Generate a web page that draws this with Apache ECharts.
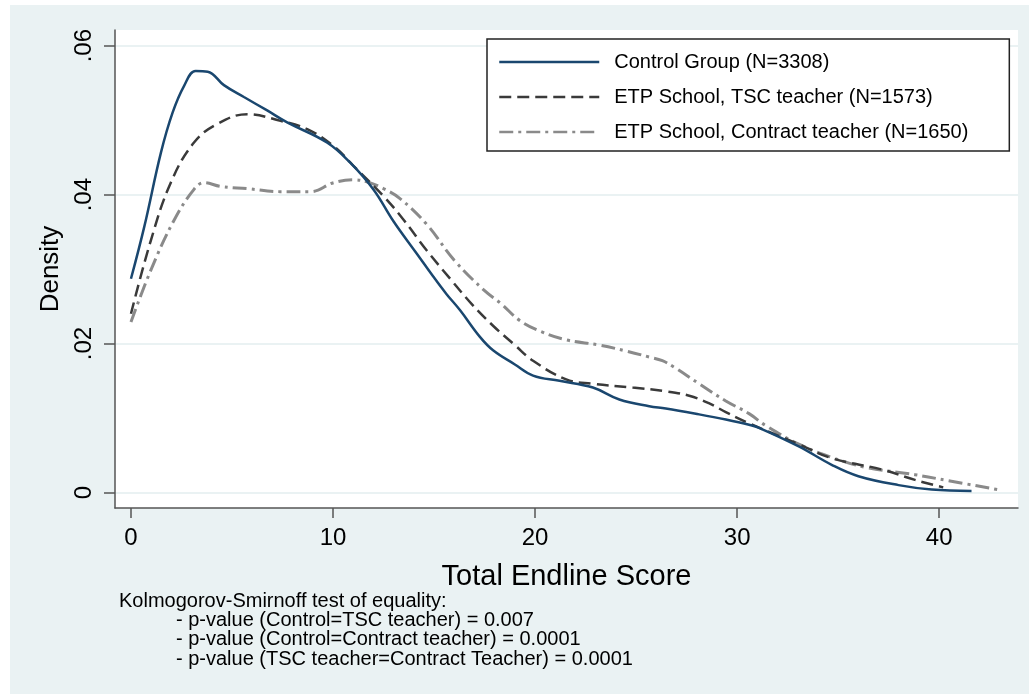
<!DOCTYPE html>
<html>
<head>
<meta charset="utf-8">
<script src="https://cdn.jsdelivr.net/npm/echarts@6/dist/echarts.min.js"></script>
<style>
  html, body { margin: 0; padding: 0; background: #fff; }
  #bg { position: absolute; left: 10px; top: 5px; width: 1019px; height: 689px; background: #eaf2f3; }
  #chart { position: absolute; left: 0; top: 0; width: 1029px; height: 694px; }
</style>
</head>
<body>
<div id="bg"></div>
<div id="chart"></div>
<script>
// kernel density estimates: [score, density]
const controlData = [
  [0, 0.0287], [0.66, 0.0357], [1.48, 0.0456], [2.06, 0.0510], [2.63, 0.0546],
  [3.2, 0.0566], [3.8, 0.0565], [4.6, 0.0547], [5.59, 0.0531], [6.74, 0.0513],
  [7.73, 0.0497], [9.7, 0.0470], [10.85, 0.0443], [12.0, 0.0407], [13.0, 0.0364],
  [14.14, 0.0321], [14.96, 0.0290], [15.6, 0.0267], [16.28, 0.0245], [17.27, 0.0209],
  [17.92, 0.0191], [19.0, 0.0172], [19.9, 0.0157], [21.21, 0.0150], [22.86, 0.0141],
  [24.17, 0.0125], [25.65, 0.0116], [26.47, 0.0113], [28.12, 0.0105], [29.44, 0.0098],
  [30.59, 0.0091], [31.08, 0.0087], [33.05, 0.0062], [34.7, 0.0037], [36.0, 0.0022],
  [37.99, 0.0010], [39.63, 0.0004], [41.6, 0.0002]
];
const tscData = [
  [0, 0.0240], [0.99, 0.0339], [1.97, 0.0416], [3.12, 0.0470], [4.28, 0.0495],
  [5.76, 0.0508], [7.4, 0.0499], [8.72, 0.0488], [10.03, 0.0465], [11.18, 0.0434],
  [12.5, 0.0398], [13.5, 0.0366], [14.64, 0.0325], [15.8, 0.0287], [16.9, 0.0252],
  [17.92, 0.0224], [19.0, 0.0198], [19.9, 0.0177], [21.54, 0.0152], [22.86, 0.0146],
  [24.83, 0.0141], [26.47, 0.0136], [27.63, 0.0130], [28.6, 0.0120], [29.44, 0.0108],
  [30.59, 0.0093], [31.8, 0.0079], [33.05, 0.0065], [34.7, 0.0046], [37.16, 0.0031],
  [38.8, 0.0017], [40.2, 0.0007]
];
const contractData = [
  [0, 0.0229], [0.99, 0.0299], [2.14, 0.0366], [3.12, 0.0407], [3.62, 0.0416],
  [4.44, 0.0411], [5.76, 0.0408], [7.4, 0.0404], [8.88, 0.0404], [10.03, 0.0416],
  [11.0, 0.0420], [11.7, 0.0417], [12.5, 0.0408], [13.3, 0.0395], [14.64, 0.0360],
  [16.0, 0.0312], [17.5, 0.0271], [18.3, 0.0254], [19.24, 0.0231], [20.3, 0.0216],
  [21.54, 0.0205], [23.19, 0.0198], [24.5, 0.0190], [25.65, 0.0182], [26.3, 0.0177],
  [26.9, 0.0168], [28.12, 0.0146], [29.44, 0.0123], [30.59, 0.0106], [31.41, 0.0090],
  [33.05, 0.0065], [34.7, 0.0047], [36.34, 0.0034], [38.8, 0.0024], [40.45, 0.0016],
  [42.9, 0.0004]
];

const seriesNames = [
  'Control Group (N=3308)',
  'ETP School, TSC teacher (N=1573)',
  'ETP School, Contract teacher (N=1650)'
];
const xTicks = [0, 10, 20, 30, 40];
const yTicks = [0, 0.02, 0.04, 0.06];
const noteTitle = 'Kolmogorov-Smirnoff test of equality:';
const noteLines = [
  '- p-value (Control=TSC teacher) = 0.007',
  '- p-value (Control=Contract teacher) = 0.0001',
  '- p-value (TSC teacher=Contract Teacher) = 0.0001'
];

const FONT = '"Liberation Sans", Arial, sans-serif';
const chart = echarts.init(document.getElementById('chart'));

const option = {
  backgroundColor: 'transparent',
  animation: false,
  textStyle: { fontFamily: FONT },
  grid: {
    left: 115, top: 30, right: 11, bottom: 186,
    show: true, backgroundColor: '#fff', borderWidth: 0
  },
  xAxis: {
    type: 'value',
    min: -0.79, max: 43.9,
    name: 'Total Endline Score',
    nameLocation: 'middle',
    nameGap: 54,
    nameTextStyle: { fontSize: 29, color: '#000', fontFamily: FONT },
    axisLine: { show: true, onZero: false, lineStyle: { color: '#555', width: 1.5 } },
    axisTick: { show: true, length: 10, customValues: xTicks, lineStyle: { color: '#555', width: 1.5 } },
    axisLabel: { customValues: xTicks, fontSize: 24, color: '#000', margin: 18, fontFamily: FONT },
    splitLine: { show: false }
  },
  yAxis: {
    type: 'value',
    min: -0.00207, max: 0.0621,
    name: 'Density',
    nameLocation: 'middle',
    nameGap: 42,
    nameRotate: 90,
    nameTextStyle: { fontSize: 26, color: '#000', fontFamily: FONT },
    axisLine: { show: true, onZero: false, lineStyle: { color: '#555', width: 1.5 } },
    axisTick: { show: true, length: 11, customValues: yTicks, lineStyle: { color: '#555', width: 1.5 } },
    axisLabel: {
      customValues: yTicks,
      rotate: 90,
      fontSize: 24,
      color: '#000',
      margin: 19,
      fontFamily: FONT,
      formatter: v => (v === 0 ? '0' : v.toFixed(2).replace(/^0/, ''))
    },
    splitLine: { show: true, lineStyle: { color: '#eaf2f3', width: 2 } }
  },
  legend: {
    left: 487, top: 39,
    orient: 'vertical',
    icon: 'inherit',
    itemWidth: 100, itemHeight: 20, itemGap: 15,
    padding: [13, 41, 9, 11],
    backgroundColor: '#fff',
    borderColor: '#222', borderWidth: 1.5,
    itemStyle: { opacity: 0 },
    lineStyle: { width: 2.5 },
    textStyle: { fontSize: 20, color: '#000', padding: [0, 0, 0, 10], fontFamily: FONT },
    data: seriesNames
  },
  series: [
    {
      name: seriesNames[0], type: 'line', data: controlData,
      smooth: 0.4, symbol: 'none', z: 4,
      lineStyle: { color: '#1a476f', width: 2.5 }, itemStyle: { color: '#1a476f' }
    },
    {
      name: seriesNames[1], type: 'line', data: tscData,
      smooth: 0.4, symbol: 'none', z: 3,
      lineStyle: { color: '#3a3a3a', width: 2.5, type: [12, 6] }, itemStyle: { color: '#3a3a3a' }
    },
    {
      name: seriesNames[2], type: 'line', data: contractData,
      smooth: 0.4, symbol: 'none', z: 2,
      lineStyle: { color: '#8a8a8a', width: 3, type: [14, 5, 3, 5] }, itemStyle: { color: '#8a8a8a' }
    }
  ],
  graphic: [
    {
      type: 'text', left: 119, top: 591,
      style: { text: noteTitle, font: '20px ' + FONT, fill: '#000' }
    },
    {
      type: 'text', left: 176, top: 610,
      style: { text: noteLines.join('\n'), font: '20px ' + FONT, lineHeight: 19.5, fill: '#000' }
    }
  ]
};

chart.setOption(option);
</script>
</body>
</html>
